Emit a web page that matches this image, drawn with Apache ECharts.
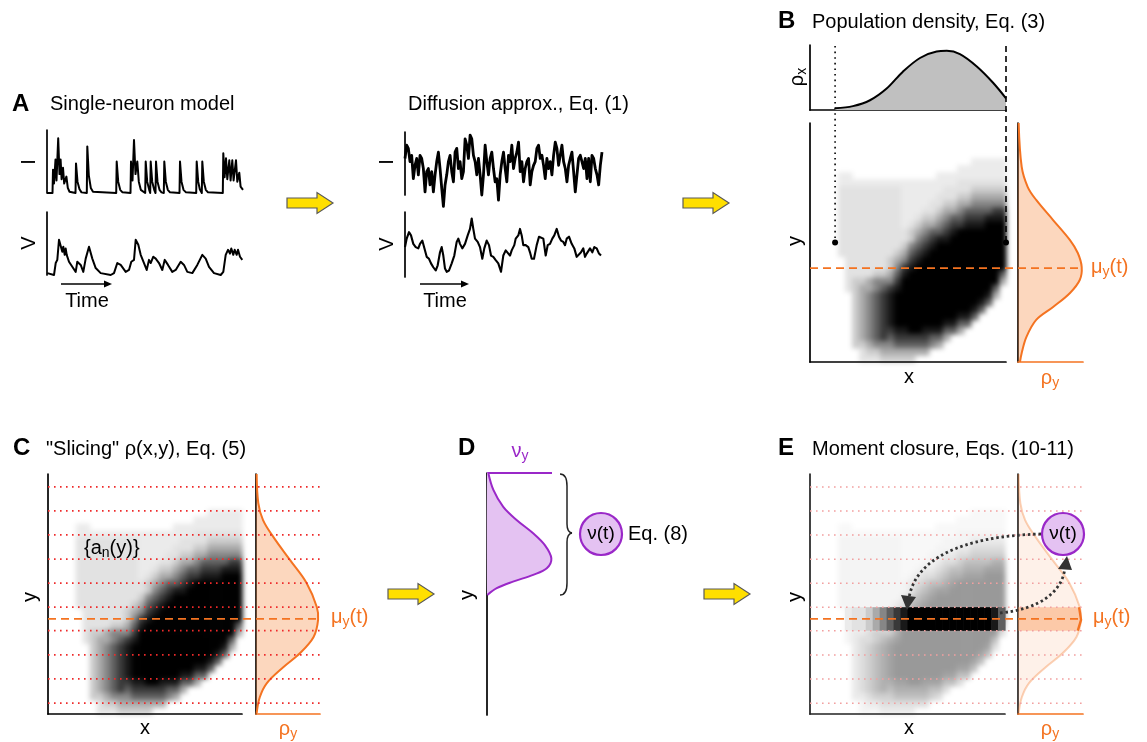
<!DOCTYPE html>
<html><head><meta charset="utf-8">
<script src="https://cdn.jsdelivr.net/npm/echarts@6/dist/echarts.min.js"></script>
<style>
html,body{margin:0;padding:0;background:#fff;}
#wrap{position:relative;width:1147px;height:742px;}
#bg,#c{position:absolute;left:0;top:0;width:1147px;height:742px;}
#bg{filter:blur(2.4px);}
</style>
</head><body><div id="wrap"><div id="bg"></div><div id="c"></div></div>
<script>
// ---------------- DATA ----------------
// A: single-neuron model, input current I (time, value 0..1)
const spikeTrace = [[0,0],[5.5,0],[6,0.37],[7,0.15],[8.5,0.53],[9.5,0.2],[11.2,0.87],[12.5,0.3],[13.6,0.53],[14.6,0.22],[16,0.4],[17.2,0.15],[19.4,0.26],[20.8,0.08],[22.5,0.02],[28.5,0],[29,0.47],[30.5,0.18],[32.5,0.06],[34.5,0.01],[39.8,0],[40.3,0.74],[41.8,0.28],[43.8,0.08],[46,0.02],[69.2,0],[69.7,0.5],[71.2,0.18],[73.2,0.05],[75.5,0.01],[83.5,0],[84,0.5],[85.5,0.2],[87,0.84],[88.5,0.3],[90.3,0.5],[91.8,0.18],[93.8,0.05],[98.2,0],[98.7,0.5],[100.2,0.18],[102.2,0.05],[103.2,0],[103.7,0.5],[105.2,0.18],[107.2,0.05],[108.5,0],[109,0.5],[110.5,0.18],[112.5,0.05],[114.5,0.01],[116.8,0],[117.3,0.5],[118.8,0.18],[120.8,0.05],[123,0.01],[132.5,0],[133,0.5],[134.5,0.18],[136.5,0.05],[139,0.01],[149.2,0],[149.7,0.5],[151.2,0.18],[152.8,0.06],[154.8,0],[155.3,0.5],[156.8,0.18],[158.8,0.05],[161,0.01],[175.8,0],[176.3,0.63],[177.6,0.25],[179,0.55],[180.3,0.22],[182.3,0.52],[183.6,0.2],[185.3,0.52],[186.6,0.2],[189,0.52],[190.3,0.18],[192.3,0.32],[193.6,0.1],[196,0.05]];
// A: membrane potential V
const vmTrace = [[0.3,0.03],[7,0],[8.7,0.19],[10.3,0.24],[12,0.56],[13.7,0.53],[15.3,0.37],[16.3,0.45],[17.7,0.32],[18.7,0.42],[19.7,0.32],[22,0.21],[25.3,0.13],[28.7,0.05],[30.3,0.21],[32,0.24],[33.7,0.16],[36.3,0.05],[38.7,0.26],[42,0.45],[45.3,0.26],[48.7,0.11],[53.7,0.03],[63.7,0],[67,0.03],[70.3,0.19],[73.7,0.16],[78.7,0.05],[82,0.08],[84.3,0.21],[87,0.24],[88.7,0.56],[91.3,0.48],[93.7,0.32],[97,0.19],[99.7,0.08],[102,0.24],[103.7,0.19],[106.3,0.29],[108.7,0.26],[112,0.19],[115.3,0.08],[117.7,0.24],[121,0.16],[125.3,0.05],[128.7,0.08],[133.7,0.21],[137,0.16],[140.3,0.05],[145.3,0.03],[150.3,0.16],[152,0.19],[155.3,0.32],[158.7,0.26],[162,0.13],[167,0.03],[173.7,0],[176.3,0.05],[178.7,0.32],[181,0.4],[183,0.34],[184.3,0.42],[186.3,0.32],[187.7,0.4],[189.7,0.32],[191,0.4],[193,0.29],[195.3,0.24]];
// Diffusion approximation: noisy input (equally spaced samples)
const diffI = [0.58,0.79,0.74,0.53,0.63,0.26,0.47,0.58,0.32,0.63,0.58,0.42,0.05,0.37,0.42,0.16,0.37,0.05,0.32,0.53,0.68,0.42,0.11,-0.18,0.16,0.32,0.53,0.63,0.37,0.21,0.68,0.74,0.42,0.53,0.26,0.37,0.89,0.79,0.58,0.95,0.89,0.63,0.53,0.32,0.58,0.32,0,0.32,0.79,0.53,0.32,0.58,0.68,0.42,0.21,0.26,-0.08,0.32,0.53,0.68,0.42,0.21,0.63,0.53,0.79,0.42,0.58,0.68,0.84,0.37,0.53,0.21,0.42,0.53,0.58,0.16,0.37,0.47,0.53,0.74,0.79,0.58,0.63,0.47,0.26,0.58,0.42,0.53,0.32,0.63,0.84,0.74,0.47,0.63,0.79,0.53,0.42,0.21,0.47,0.58,0.68,0.37,0.05,0.32,0.58,0.63,0.53,0.42,0.58,0.26,0.58,0.21,0.63,0.58,0.42,0.32,0.16,0.47,0.68];
// Diffusion approximation: V
const diffV = [[0,0.46],[1.7,0.59],[4,0.69],[6,0.64],[8.3,0.51],[10.7,0.46],[13.3,0.44],[15,0.51],[17.3,0.56],[19.3,0.54],[21.7,0.31],[24,0.28],[26,0.21],[28.3,0.15],[30.7,0.1],[32.7,0.18],[35,0.38],[36.7,0.46],[38.3,0.33],[40,0.13],[41.7,0.08],[44,0.1],[46.7,0.21],[49.3,0.33],[51.7,0.54],[53.3,0.59],[55,0.51],[57.3,0.44],[60,0.51],[62.7,0.64],[65,0.74],[66.7,0.9],[68.3,0.74],[70,0.59],[72.7,0.54],[75,0.46],[77.3,0.28],[79.3,0.44],[81.7,0.56],[84,0.49],[86,0.33],[88.3,0.31],[90.7,0.26],[93.3,0.21],[96,0.08],[98.3,0.33],[100.7,0.41],[102.7,0.38],[105,0.33],[106.7,0.41],[109.3,0.49],[110.7,0.59],[113.3,0.64],[115,0.74],[116.7,0.64],[118.3,0.49],[120.7,0.49],[123.3,0.46],[125,0.38],[126.7,0.28],[129,0.28],[131.7,0.49],[134,0.62],[136,0.64],[138.3,0.59],[140.7,0.33],[142.7,0.49],[145,0.51],[147.3,0.59],[149.3,0.64],[151.7,0.74],[154,0.62],[156,0.56],[158.3,0.54],[160,0.49],[161.7,0.59],[164,0.62],[166.7,0.51],[169.3,0.44],[171.7,0.31],[173.3,0.28],[176,0.38],[178.3,0.44],[180,0.31],[181.7,0.36],[183.3,0.38],[185,0.44],[187.3,0.38],[189.3,0.46],[191.7,0.44],[194,0.36],[196,0.33]];
// Population density rho(x,y): grey level 0 (empty) .. 9 (black); rows from top (row 28) to bottom (row 0), columns 4..27 of a 28 x 34 grid
const HEAT_NCOL = 28, HEAT_NROW = 34, HEAT_COL0 = 4, HEAT_TOP_ROW = 28;
const densityRows = [
"000000000000000000011111",
"000000000000000001111111",
"110000000000001111111111",
"111111111111111112222222",
"222222222111111222233333",
"222222222111112223344444",
"222222222111122334455555",
"222222222111223445666677",
"222222222112334566777888",
"222222222123445677888999",
"222222222234566789999999",
"222222222235678899999999",
"222222222356789999999999",
"222222223467899999999999",
"022222234578999999999999",
"022222235789999999999999",
"022223346899999999999996",
"023345557999999999999994",
"023445678999999999999960",
"003456789999999999999840",
"003456789999999999998600",
"003456789999999999986000",
"003456789999999998860000",
"003456789999999886600000",
"003456778899888664000000",
"003456767777766400000000",
"003345556666654000000000",
"000233444444400000000000",
"000222333330000000000000"];
// E: conditional density inside the selected slice (columns 4..27)
const bandLevels = "012234567899999999999986";
// marginal rho_x (x normalised, density)
const rhoX = [[0.128,0.026],[0.219,0.06],[0.306,0.15],[0.391,0.33],[0.474,0.59],[0.561,0.80],[0.646,0.90],[0.698,0.91],[0.765,0.86],[0.851,0.67],[0.934,0.42],[1.0,0.18]];
// marginal rho_y (density, y normalised)
const rhoY_B = [[0.01,1.0],[0.057,0.816],[0.15,0.732],[0.28,0.678],[0.54,0.594],[0.80,0.51],[0.92,0.456],[0.98,0.397],[0.95,0.343],[0.80,0.289],[0.54,0.23],[0.28,0.176],[0.13,0.105],[0.057,0.038],[0.03,0.0]];
const rhoY_C = [[0.01,1.0],[0.036,0.879],[0.11,0.808],[0.27,0.738],[0.53,0.642],[0.79,0.546],[0.95,0.446],[0.97,0.392],[0.90,0.321],[0.69,0.254],[0.43,0.196],[0.17,0.129],[0.06,0.071],[0.01,0.004]];
const rhoY_Eband = [[0.92,0.347],[0.97,0.392],[0.94,0.445]];
// D: flux nu_y
const nuY = [[0.02,1.0],[0.098,0.93],[0.25,0.86],[0.455,0.806],[0.71,0.751],[0.89,0.702],[0.99,0.647],[0.92,0.606],[0.71,0.579],[0.40,0.551],[0.15,0.524],[0.005,0.496]];
const nuTop = [[0,1],[1,1]];
// slices and means
const sliceEdges = [0.045,0.146,0.246,0.347,0.445,0.545,0.645,0.746,0.846,0.946];
const muY_B = 0.393, muY_C = 0.396;
const markX = [0.128, 1.0], markDotY = 0.5;

// ---------------- STYLE ----------------
const FONT = '"Liberation Sans", Arial, Helvetica, sans-serif';
const ORANGE = '#f47321', PURPLE = '#9a28c8', PURPLE_FILL = '#e4c2f2';
const GREYS = ['#ffffff','#ebebeb','#e2e2e2','#cbcbcb','#aaaaaa','#868686','#5f5f5f','#393939','#191919','#000000'];
const GREYS_E = ['#ffffff','#f8f8f8','#f4f4f4','#eaeaea','#dddddd','#cfcfcf','#bfbfbf','#b0b0b0','#a3a3a3','#999999'];

const grids = [
 {left:47, top:130, width:197, height:63},
 {left:47, top:212, width:197, height:63},
 {left:405, top:132, width:197, height:63},
 {left:405, top:212, width:197, height:65},
 {left:810, top:45, width:196, height:65},
 {left:810, top:123, width:196, height:239},
 {left:1018, top:123, width:65, height:239},
 {left:48, top:474, width:194, height:240},
 {left:256, top:474, width:64, height:240},
 {left:487, top:473, width:65, height:242},
 {left:810, top:474, width:195, height:240},
 {left:1018, top:474, width:65, height:240}
];
const xMax = [197,197,diffI.length-1,197,1,1,1,1,1,1,1,1];
const xLine = [0,0,0,0,'#000','#000',ORANGE,'#000',ORANGE,0,'#222',ORANGE];
const yLine = ['#000','#000','#000','#000','#000','#000','#000','#000','#000','#000','#222','#222'];

function axis(gi, max, color){
  return {type:'value', gridIndex:gi, min:0, max:max,
    axisLine:{show:!!color, onZero:false, lineStyle:{color:color||'#000', width:1.7}},
    axisTick:{show:false}, axisLabel:{show:false}, splitLine:{show:false}};
}

function traceLine(gi, data, w){
  return {type:'line', xAxisIndex:gi, yAxisIndex:gi, data:data, symbol:'none', showSymbol:false,
    lineStyle:{color:'#000', width:w, join:'round'}, clip:false, silent:true};
}
function heatSeries(gi, rows, pal){
  const data = [];
  rows.forEach((s, i) => {
    const r = HEAT_TOP_ROW - i;
    for (let k = 0; k < s.length; k++) {
      const lvl = +s[k];
      if (lvl > 0) data.push([(HEAT_COL0 + k + 0.5) / HEAT_NCOL, (r + 0.5) / HEAT_NROW, lvl, HEAT_COL0 + k, r]);
    }
  });
  return {type:'custom', xAxisIndex:gi, yAxisIndex:gi, data:data, encode:{x:0, y:1}, silent:true, z:2,
    renderItem:function(params, api){
      const c = api.value(3), r = api.value(4), l = api.value(2);
      const a = api.coord([c / HEAT_NCOL, (r + 1) / HEAT_NROW]);
      const b = api.coord([(c + 1) / HEAT_NCOL, r / HEAT_NROW]);
      return {type:'rect', shape:{x:a[0], y:a[1], width:b[0]-a[0]+0.6, height:b[1]-a[1]+0.6}, style:{fill:pal[l]}};
    }};
}
function bandSeries(gi, levels, lo, hi){
  const data = [];
  for (let k = 0; k < levels.length; k++) {
    const lvl = +levels[k];
    if (lvl > 0) data.push([(HEAT_COL0 + k + 0.5) / HEAT_NCOL, (lo + hi) / 2, lvl, HEAT_COL0 + k]);
  }
  return {type:'custom', xAxisIndex:gi, yAxisIndex:gi, data:data, encode:{x:0, y:1}, silent:true, z:3,
    renderItem:function(params, api){
      const c = api.value(3), l = api.value(2);
      const a = api.coord([c / HEAT_NCOL, hi]);
      const b = api.coord([(c + 1) / HEAT_NCOL, lo]);
      return {type:'rect', shape:{x:a[0], y:a[1], width:b[0]-a[0]+0.6, height:b[1]-a[1]}, style:{fill:GREYS[l]}};
    }};
}
function vertArea(gi, pts, fill, stroke, lw, smooth, z){
  return {type:'custom', xAxisIndex:gi, yAxisIndex:gi, data:pts, encode:{x:0, y:1}, silent:true, clip:false, z:z||4,
    renderItem:function(params, api){
      if (params.dataIndex !== 0) return null;
      const P = pts.map(p => api.coord(p));
      const first = api.coord([0, pts[0][1]]), last = api.coord([0, pts[pts.length-1][1]]);
      const ch = [];
      if (fill) ch.push({type:'polygon', shape:{points:[first].concat(P, [last]), smooth:smooth}, style:{fill:fill, stroke:null}});
      if (stroke) ch.push({type:'polyline', shape:{points:P, smooth:smooth}, style:{stroke:stroke, lineWidth:lw, fill:null}});
      return {type:'group', children:ch};
    }};
}

// background layer: density images (softened like the rendered image)
const bg = echarts.init(document.getElementById('bg'), null, {renderer:'canvas'});
bg.setOption({animation:false, backgroundColor:'#fff', grid:grids,
  xAxis:grids.map((g,i)=>axis(i, xMax[i], 0)), yAxis:grids.map((g,i)=>axis(i, 1, 0)),
  series:[heatSeries(5, densityRows, GREYS), heatSeries(7, densityRows, GREYS), heatSeries(10, densityRows, GREYS_E)]});

const series = [
  traceLine(0, spikeTrace, 2),
  traceLine(1, vmTrace, 2),
  traceLine(2, diffI.map((v, i) => [i, v]), 2.8),
  traceLine(3, diffV, 2.1),
  {type:'line', xAxisIndex:4, yAxisIndex:4, data:rhoX, smooth:0.35, symbol:'none', showSymbol:false,
    lineStyle:{color:'#000', width:2}, areaStyle:{color:'#c0c0c0', opacity:1}, silent:true},
  vertArea(6, rhoY_B, 'rgba(247,140,70,0.35)', ORANGE, 2, 0.35),
  vertArea(8, rhoY_C, 'rgba(247,140,70,0.35)', ORANGE, 2, 0.35),
  vertArea(9, nuY, PURPLE_FILL, PURPLE, 2, 0.35),
  {type:'line', xAxisIndex:9, yAxisIndex:9, data:nuTop, symbol:'none', lineStyle:{color:PURPLE, width:2.2}, clip:false, silent:true},
  bandSeries(10, bandLevels, sliceEdges[3], sliceEdges[4]),
  vertArea(11, rhoY_C, 'rgba(247,140,70,0.12)', 'rgba(244,115,33,0.33)', 2, 0.35),
  vertArea(11, rhoY_Eband, 'rgba(247,140,70,0.4)', ORANGE, 2.4, 0, 5)
];

const chart = echarts.init(document.getElementById('c'), null, {renderer:'canvas'});
chart.setOption({animation:false, backgroundColor:'transparent', grid:grids,
  xAxis:grids.map((g,i)=>axis(i, xMax[i], xLine[i])), yAxis:grids.map((g,i)=>axis(i, 1, yLine[i])), series:series});

// ---------------- ANNOTATIONS ----------------
function px(gi, x, y){ return chart.convertToPixel({gridIndex:gi}, [x, y]); }
const G = [];
function mrich(color, size){
  return {m:{fontSize:size, fontFamily:FONT, fill:color, lineHeight:size+4},
          s:{fontSize:Math.round(size*0.7), fontFamily:FONT, fill:color, verticalAlign:'bottom', lineHeight:Math.round(size*0.45)}};
}
function txt(x, y, text, o){
  o = o || {};
  const size = o.size || 20, color = o.color || '#000';
  const st = {text:text, fill:color, font:(o.bold ? 'bold ' : '') + size + 'px ' + FONT,
    align:o.align || 'left', textAlign:o.align || 'left', verticalAlign:'middle', textVerticalAlign:'middle'};
  if (o.rich) st.rich = mrich(color, size);
  G.push({type:'text', x:x, y:y, rotation:o.rot || 0, z:100, silent:true, style:st});
}
function line(x1, y1, x2, y2, stroke, w, dash){
  G.push({type:'line', z:90, silent:true, shape:{x1:x1, y1:y1, x2:x2, y2:y2}, style:{stroke:stroke, lineWidth:w, lineDash:dash || null}});
}
function yellowArrow(x0, cy){
  G.push({type:'polygon', z:100, silent:true, shape:{points:[[x0,cy-5],[x0+30,cy-5],[x0+30,cy-10.5],[x0+46,cy],[x0+30,cy+10.5],[x0+30,cy+5],[x0,cy+5]]},
    style:{fill:'#ffdf00', stroke:'#5a5a5a', lineWidth:1.2}});
}
function timeArrow(x1, x2, y){
  line(x1, y, x2 - 6, y, '#000', 1.6);
  G.push({type:'polygon', z:100, silent:true, shape:{points:[[x2-8,y-3.5],[x2,y],[x2-8,y+3.5]]}, style:{fill:'#000'}});
}
const R = Math.PI / 2;

// Panel A
txt(12, 104, 'A', {bold:true, size:24});
txt(50, 104, 'Single-neuron model');
txt(29, 162, 'I', {rot:R, align:'center'});
txt(29, 243, 'V', {rot:R, align:'center'});
timeArrow(61, 112, 284);
txt(87, 301, 'Time', {align:'center'});
// Diffusion
txt(408, 104, 'Diffusion approx., Eq. (1)');
txt(387, 162, 'I', {rot:R, align:'center'});
txt(387, 244, 'V', {rot:R, align:'center'});
timeArrow(420, 469, 284);
txt(445, 301, 'Time', {align:'center'});
// yellow arrows
yellowArrow(287, 203); yellowArrow(683, 203); yellowArrow(388, 594); yellowArrow(704, 594);

// Panel B
txt(778, 21, 'B', {bold:true, size:24});
txt(812, 22, 'Population density, Eq. (3)');
txt(797, 77, '{m|ρ}{s|x}', {rot:R, align:'center', rich:true});
txt(795, 241, 'y', {rot:R, align:'center'});
txt(909, 377, 'x', {align:'center'});
txt(1091, 267, '{m|μ}{s|y}{m|(t)}', {color:ORANGE, rich:true});
txt(1050, 378, '{m|ρ}{s|y}', {color:ORANGE, align:'center', rich:true});
(function(){
  const x1 = px(4, markX[0], 0)[0], x2 = px(4, markX[1], 0)[0];
  const yTop = grids[4].top + 1, yDot = px(5, 0, markDotY)[1];
  line(x1, yTop, x1, yDot, '#000', 1.6, [1.6, 4]);
  line(x2, yTop, x2, yDot, '#000', 1.6, [6, 4]);
  G.push({type:'circle', z:100, silent:true, shape:{cx:x1, cy:yDot, r:3}, style:{fill:'#000'}});
  G.push({type:'circle', z:100, silent:true, shape:{cx:x2, cy:yDot, r:3}, style:{fill:'#000'}});
  const yMu = px(6, 0, muY_B)[1];
  line(grids[5].left, yMu, grids[6].left + 63, yMu, ORANGE, 1.7, [8, 5]);
})();

// Panel C
txt(13, 448, 'C', {bold:true, size:24});
txt(46, 449, '"Slicing" ρ(x,y), Eq. (5)');
txt(30, 597, 'y', {rot:R, align:'center'});
txt(145, 728, 'x', {align:'center'});
txt(331, 617, '{m|μ}{s|y}{m|(t)}', {color:ORANGE, rich:true});
txt(288, 729, '{m|ρ}{s|y}', {color:ORANGE, align:'center', rich:true});
txt(84, 548, '{m|{a}{s|n}{m|(y)}}', {rich:true});
(function(){
  const xl = grids[7].left, xr = grids[8].left + grids[8].width;
  sliceEdges.forEach(e => { const y = px(8, 0, e)[1]; line(xl, y, xr, y, '#ee2a2a', 1.7, [1.6, 4.4]); });
  const yMu = px(8, 0, muY_C)[1];
  line(xl, yMu, xr, yMu, ORANGE, 1.7, [8, 5]);
})();

// Panel D
txt(458, 448, 'D', {bold:true, size:24});
txt(520, 451, '{m|ν}{s|y}', {color:PURPLE, align:'center', rich:true});
txt(467, 595, 'y', {rot:R, align:'center'});
G.push({type:'bezierCurve', z:100, silent:true, shape:{x1:560,y1:474,x2:567,y2:486,cpx1:567,cpy1:474}, style:{stroke:'#222', lineWidth:1.5, fill:null}});
line(567, 486, 567, 524, '#222', 1.5);
G.push({type:'bezierCurve', z:100, silent:true, shape:{x1:567,y1:524,x2:572,y2:533,cpx1:567,cpy1:532}, style:{stroke:'#222', lineWidth:1.5, fill:null}});
G.push({type:'bezierCurve', z:100, silent:true, shape:{x1:572,y1:533,x2:567,y2:542,cpx1:567,cpy1:534}, style:{stroke:'#222', lineWidth:1.5, fill:null}});
line(567, 542, 567, 583, '#222', 1.5);
G.push({type:'bezierCurve', z:100, silent:true, shape:{x1:567,y1:583,x2:560,y2:595,cpx1:567,cpy1:595}, style:{stroke:'#222', lineWidth:1.5, fill:null}});
G.push({type:'circle', z:100, silent:true, shape:{cx:601, cy:534, r:21}, style:{fill:PURPLE_FILL, stroke:PURPLE, lineWidth:2.2}});
txt(601, 534, 'ν(t)', {align:'center', size:19});
txt(628, 534, 'Eq. (8)');

// Panel E
txt(778, 448, 'E', {bold:true, size:24});
txt(812, 449, 'Moment closure, Eqs. (10-11)');
txt(795, 597, 'y', {rot:R, align:'center'});
txt(909, 728, 'x', {align:'center'});
txt(1093, 617, '{m|μ}{s|y}{m|(t)}', {color:ORANGE, rich:true});
txt(1050, 729, '{m|ρ}{s|y}', {color:ORANGE, align:'center', rich:true});
(function(){
  const xl = grids[10].left, xr = grids[11].left + grids[11].width;
  sliceEdges.forEach(e => { const y = px(11, 0, e)[1]; line(xl, y, xr, y, '#f2a0a0', 1.6, [1.6, 4.4]); });
  const yMu = px(11, 0, muY_C)[1];
  line(xl, yMu, grids[11].left + 63, yMu, ORANGE, 1.7, [8, 5]);
})();
G.push({type:'bezierCurve', z:95, silent:true, shape:{x1:1041,y1:534,cpx1:960,cpy1:536,cpx2:915,cpy2:560,x2:909,y2:598},
  style:{stroke:'#333', lineWidth:2.8, lineDash:[2.5,2.8], fill:null}});
G.push({type:'polygon', z:96, silent:true, shape:{points:[[901,595],[916,597],[907,610]]}, style:{fill:'#333'}});
G.push({type:'bezierCurve', z:95, silent:true, shape:{x1:1000,y1:613,cpx1:1040,cpy1:609,cpx2:1062,cpy2:592,x2:1065,y2:568},
  style:{stroke:'#333', lineWidth:2.8, lineDash:[2.5,2.8], fill:null}});
G.push({type:'polygon', z:96, silent:true, shape:{points:[[1058,569],[1072,570],[1067,556]]}, style:{fill:'#333'}});
G.push({type:'circle', z:100, silent:true, shape:{cx:1063, cy:534, r:21}, style:{fill:PURPLE_FILL, stroke:PURPLE, lineWidth:2.2}});
txt(1063, 534, 'ν(t)', {align:'center', size:19});

chart.setOption({graphic:{elements:G}});
</script></body></html>
